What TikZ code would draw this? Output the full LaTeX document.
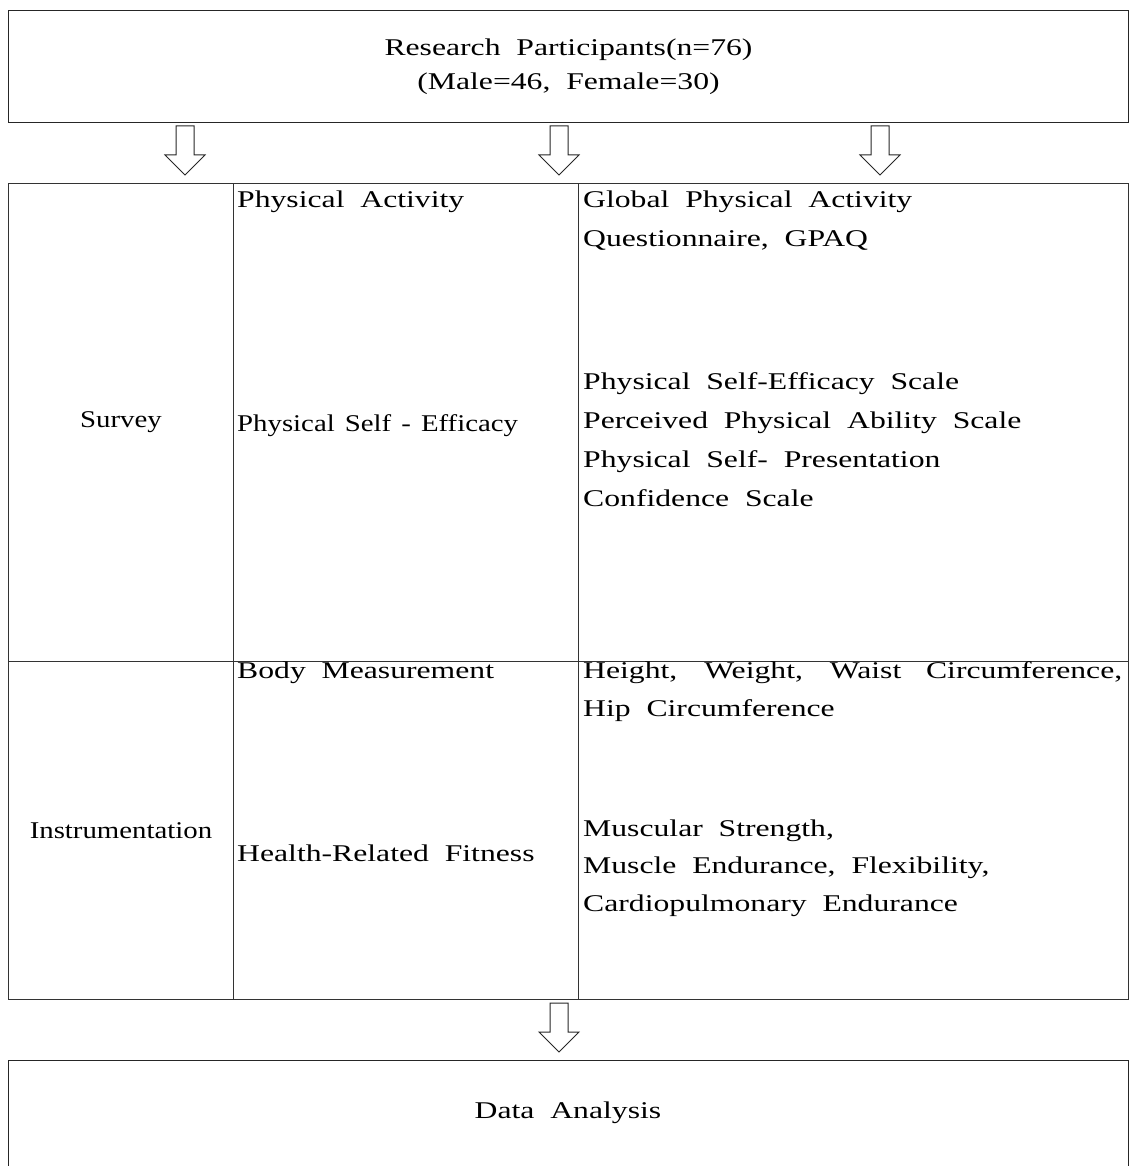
\documentclass[tikz,border=0pt]{standalone}
\usepackage{fontspec}
\setmainfont{Liberation Serif}[FakeStretch=1.32, WordSpace=2.0]
\newfontfamily\narrowfont{Liberation Serif}[FakeStretch=1.2, WordSpace=1.4]
\usepackage{tikz}
\usetikzlibrary{positioning,calc}

\tikzset{
  blockarrow/.pic={
    \draw[black!85, line width=1pt] (-9,0) -- (9,0) -- (9,29) -- (20,29) -- (0,49)
      -- (-20,29) -- (-9,29) -- cycle;
  }
}

\begin{document}
\begin{tikzpicture}[x=1pt, y=-1pt,
    font=\fontsize{24}{34}\selectfont,
    box/.style={draw=black!85, line width=1pt, inner sep=0pt},
    cell/.style={draw=black!80, line width=0.9pt, inner sep=0pt, anchor=north west},
    entry/.style={inner sep=0pt, anchor=base west}]
    \useasboundingbox (0,0) rectangle (1129,1166);

    % Participants box
    \node[box, minimum width=1120, minimum height=112, anchor=north west, align=center] (part) at (8,10)
        {Research Participants(n=76)\\(Male=46, Female=30)};

    % Arrows down to the table
    \pic at (185,126) {blockarrow};
    \pic at (559,126) {blockarrow};
    \pic at (880,126) {blockarrow};

    % Table cells
    \node[cell, minimum width=225, minimum height=478] (survey) at (8,183) {\narrowfont Survey};
    \node[cell, minimum width=345, minimum height=478] (svyvar) at (233,183) {};
    \node[cell, minimum width=550, minimum height=478] (svytool) at (578,183) {};
    \node[cell, minimum width=225, minimum height=338] (instr) at (8,661) {\narrowfont Instrumentation};
    \node[cell, minimum width=345, minimum height=338] (insvar) at (233,661) {};
    \node[cell, minimum width=550, minimum height=338] (instool) at (578,661) {};

    % Survey row
    \node[entry] (pa) at (237,208) {Physical Activity};
    \node[entry] (pse) at (237,431) {\narrowfont Physical Self - Efficacy};
    \node[entry] (gpaq1) at (583,208) {Global Physical Activity};
    \node[entry] (gpaq2) at (583,247) {Questionnaire, GPAQ};
    \node[entry] (psel1) at (583,389) {Physical Self-Efficacy Scale};
    \node[entry] (psel2) at (583,428) {Perceived Physical Ability Scale};
    \node[entry] (psel3) at (583,467) {Physical Self- Presentation};
    \node[entry] (psel4) at (583,506) {Confidence Scale};

    % Instrumentation row
    \node[entry] (bm) at (237,678) {Body Measurement};
    \node[entry] (hrf) at (237,861) {Health-Related Fitness};
    \node[entry] (bml1) at (583,678) {\makebox[539pt][s]{Height, Weight, Waist Circumference,}};
    \node[entry] (bml2) at (583,716) {Hip Circumference};
    \node[entry] (hrfl1) at (583,836) {Muscular Strength,};
    \node[entry] (hrfl2) at (583,873) {Muscle Endurance, Flexibility,};
    \node[entry] (hrfl3) at (583,911) {Cardiopulmonary Endurance};

    % Arrow to analysis
    \pic at (559,1003) {blockarrow};

    % Data analysis box (runs off the bottom)
    \draw[box] (8,1166) |- (1128,1060) -- (1128,1166);
    \node (analysis) at (568,1113) {Data Analysis};
\end{tikzpicture}
\end{document}
